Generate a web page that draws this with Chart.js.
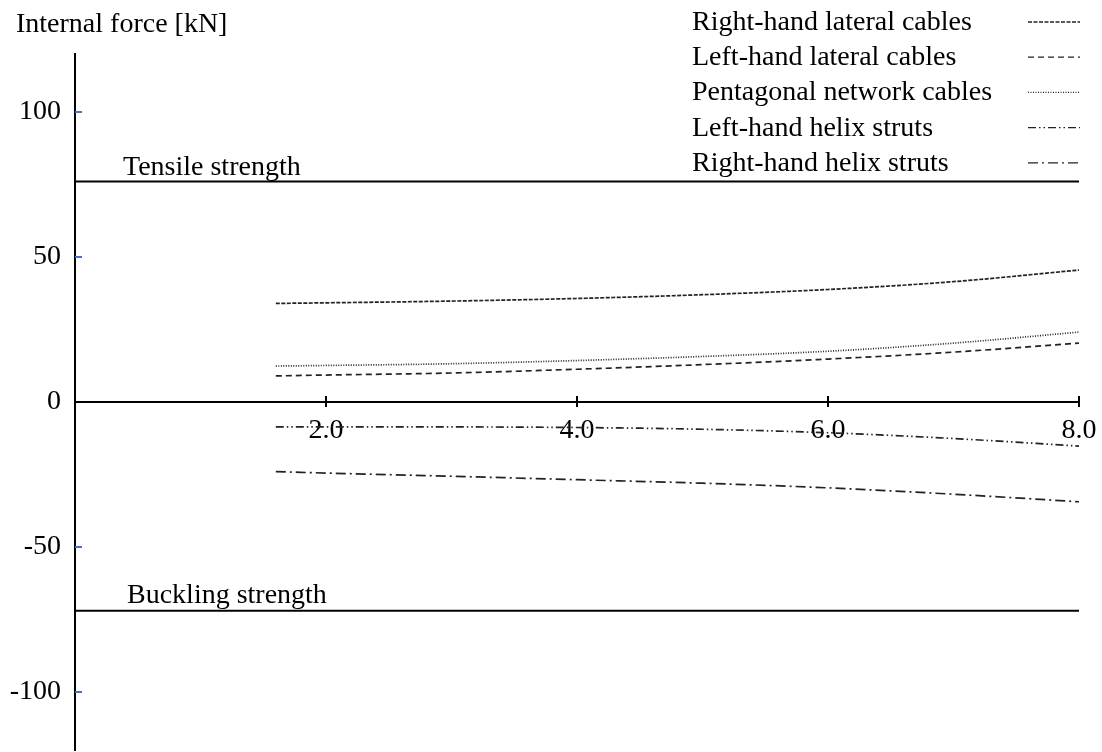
<!DOCTYPE html>
<html>
<head>
<meta charset="utf-8">
<script src="https://cdn.jsdelivr.net/npm/chart.js@4/dist/chart.umd.min.js"></script>
<style>
  html, body { margin: 0; padding: 0; background: #fff; }
  #wrap { width: 1102px; height: 752px; position: relative; }
</style>
</head>
<body>
<div id="wrap"><canvas id="c" width="1102" height="752"></canvas></div>
<script>
// Position along the member (x) and internal forces in kN per member group
const xValues = [1.6, 2, 3, 4, 5, 6, 7, 8];
const rightLateral = [34.0, 34.2, 34.8, 35.7, 37.0, 38.8, 41.5, 45.5];
const leftLateral = [9.0, 9.3, 10.0, 11.3, 12.9, 14.8, 17.2, 20.3];
const pentagonal = [12.4, 12.6, 13.2, 14.3, 15.7, 17.5, 20.3, 24.1];
const leftHelix = [-8.6, -8.6, -8.6, -8.8, -9.4, -10.6, -12.6, -15.2];
const rightHelix = [-24.0, -24.5, -25.6, -26.8, -28.0, -29.6, -31.8, -34.4];

const seriesNames = [
  'Right-hand lateral cables',
  'Left-hand lateral cables',
  'Pentagonal network cables',
  'Left-hand helix struts',
  'Right-hand helix struts'
];

// Strength limits
const tensileStrength = 76;
const bucklingStrength = -72;
const strengthRange = [0, 8];

// Axis ticks
const xTickValues = [2, 4, 6, 8];
const xTickLabels = ['2.0', '4.0', '6.0', '8.0'];
const yTickValues = [-100, -50, 0, 50, 100];

const FONT = '"Liberation Serif", "Times New Roman", serif';
const lineColor = '#222';

const dashes = [
  [4, 1.5],
  [6, 4],
  [1, 1.5],
  [8, 3, 1.5, 3, 1.5, 3],
  [10, 4, 2, 4]
];
const seriesValues = [rightLateral, leftLateral, pentagonal, leftHelix, rightHelix];

const toPoints = vals => vals.map((v, i) => ({ x: xValues[i], y: v }));

const datasets = seriesValues.map((vals, i) => ({
  label: seriesNames[i],
  data: toPoints(vals),
  borderColor: lineColor,
  borderWidth: 1.7,
  borderDash: dashes[i],
  pointRadius: 0,
  fill: false,
  cubicInterpolationMode: 'monotone'
}));

[tensileStrength, bucklingStrength].forEach((v, i) => {
  datasets.push({
    label: i === 0 ? 'Tensile strength' : 'Buckling strength',
    data: strengthRange.map(x => ({ x: x, y: v })),
    borderColor: '#000',
    borderWidth: 2,
    pointRadius: 0,
    fill: false
  });
});

// Annotations, tick marks and legend drawn on top of the chart
const decorations = {
  id: 'decorations',
  afterDraw(chart) {
    const ctx = chart.ctx;
    const xs = chart.scales.x, ys = chart.scales.y;
    const y0 = ys.getPixelForValue(0);
    ctx.save();

    // x tick marks crossing the axis
    ctx.strokeStyle = '#000';
    ctx.lineWidth = 2;
    xTickValues.forEach(v => {
      const px = xs.getPixelForValue(v);
      ctx.beginPath();
      ctx.moveTo(px, y0 - 6);
      ctx.lineTo(px, y0 + 5);
      ctx.stroke();
    });

    // y tick marks inside the plot
    ctx.strokeStyle = '#4472c4';
    ctx.lineWidth = 2;
    const left = chart.chartArea.left;
    yTickValues.forEach(v => {
      if (v === 0) return;
      const py = ys.getPixelForValue(v);
      ctx.beginPath();
      ctx.moveTo(left, py);
      ctx.lineTo(left + 7, py);
      ctx.stroke();
    });

    ctx.fillStyle = '#000';
    ctx.font = '28px ' + FONT;
    ctx.textBaseline = 'alphabetic';
    ctx.textAlign = 'left';

    // Axis title
    ctx.fillText('Internal force [kN]', 16, 32);

    // Limit labels
    ctx.fillText('Tensile strength', 123, ys.getPixelForValue(tensileStrength) - 7);
    ctx.fillText('Buckling strength', 127, ys.getPixelForValue(bucklingStrength) - 8);

    // Legend: name on the left, line sample on the right
    seriesNames.forEach((name, i) => {
      const rowY = 22 + i * 35.2;
      ctx.fillStyle = '#000';
      ctx.fillText(name, 692, rowY + 8);
      ctx.strokeStyle = lineColor;
      ctx.lineWidth = 1.3;
      ctx.setLineDash(dashes[i]);
      ctx.beginPath();
      ctx.moveTo(1028, rowY);
      ctx.lineTo(1080, rowY);
      ctx.stroke();
      ctx.setLineDash([]);
    });

    ctx.restore();
  }
};

// The x axis sits on y = 0 inside the plot, so it should not reserve layout space
const noLayoutSpace = s => {
  s.height = 0;
  s.paddingLeft = 0; s.paddingRight = 0; s.paddingTop = 0; s.paddingBottom = 0;
};

new Chart(document.getElementById('c'), {
  type: 'line',
  data: { datasets: datasets },
  options: {
    responsive: false,
    animation: false,
    events: [],
    layout: { padding: { top: 54, right: 23, bottom: 2, left: 0 } },
    plugins: { legend: { display: false }, tooltip: { enabled: false } },
    scales: {
      x: {
        type: 'linear',
        position: { y: 0 },
        min: 0,
        max: 8,
        afterBuildTicks: s => { s.ticks = xTickValues.map(v => ({ value: v })); },
        afterFit: noLayoutSpace,
        grid: { display: false, drawTicks: false },
        border: { display: true, color: '#000', width: 2 },
        ticks: {
          padding: 12,
          color: '#000',
          font: { family: FONT, size: 28 },
          maxRotation: 0,
          autoSkip: false,
          callback: (v) => xTickLabels[xTickValues.indexOf(v)]
        }
      },
      y: {
        type: 'linear',
        position: 'left',
        min: -120,
        max: 120,
        afterBuildTicks: s => { s.ticks = yTickValues.map(v => ({ value: v })); },
        afterFit: s => { s.width = 75; s.paddingTop = 0; s.paddingBottom = 0; },
        grid: { display: false, drawTicks: false },
        border: { display: true, color: '#000', width: 2 },
        ticks: {
          padding: 14,
          color: '#000',
          font: { family: FONT, size: 28 },
          autoSkip: false
        }
      }
    }
  },
  plugins: [decorations]
});
</script>
</body>
</html>
